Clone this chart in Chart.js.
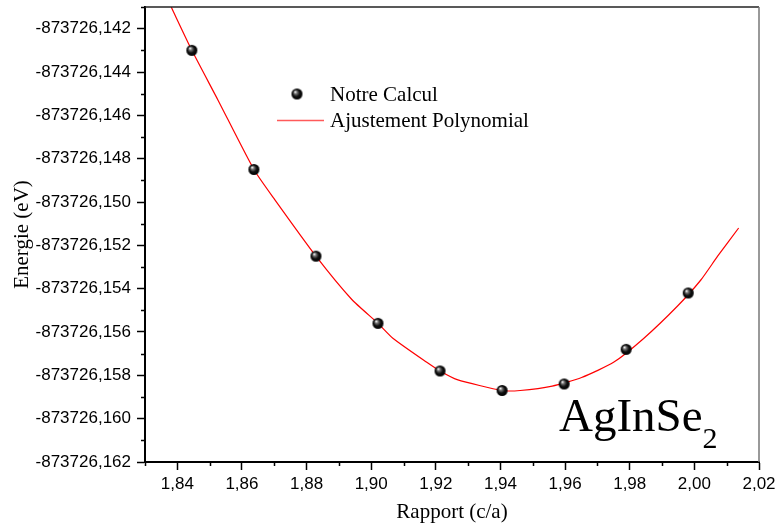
<!DOCTYPE html>
<html lang="fr">
<head>
    <meta charset="UTF-8">
    <title>AgInSe2 - Energie vs c/a</title>
    <script src="https://cdn.jsdelivr.net/npm/chart.js"></script>
    <style>
        html, body { margin: 0; padding: 0; background: #fff; }
        #chart { display: block; }
    </style>
</head>
<body>
    <canvas id="chart" width="778" height="529"></canvas>

    <script>
        // Calculated points (c/a ratio, total energy in eV)
        const ratio = [1.8445, 1.8637, 1.8829, 1.9021, 1.9213, 1.9405, 1.9597, 1.9789, 1.9981];
        const energy = [-873726.1430, -873726.1485, -873726.1525, -873726.1556, -873726.1578,
                        -873726.1587, -873726.1584, -873726.1568, -873726.1542];

        // Polynomial fit curve
        const fitRatio = [1.8381, 1.8445, 1.8526, 1.8637, 1.8702, 1.8829, 1.8940, 1.9021, 1.9068,
                          1.9172, 1.9213, 1.9266, 1.9405, 1.9461, 1.9560, 1.9651, 1.9750, 1.9843,
                          1.9948, 2.0020, 2.0072, 2.0137];
        const fitEnergy = [-873726.1410, -873726.1430, -873726.1453, -873726.1485, -873726.1499,
                           -873726.1525, -873726.1545, -873726.1556, -873726.1563, -873726.1574,
                           -873726.1578, -873726.1582, -873726.1587, -873726.1587, -873726.1585,
                           -873726.1581, -873726.1574, -873726.1563, -873726.1548, -873726.1536,
                           -873726.1525, -873726.1512];

        const xTicks = [1.84, 1.86, 1.88, 1.90, 1.92, 1.94, 1.96, 1.98, 2.00, 2.02];
        const yTicks = [-873726.162, -873726.160, -873726.158, -873726.156, -873726.154,
                        -873726.152, -873726.150, -873726.148, -873726.146, -873726.144, -873726.142];

        const serif = '"Liberation Serif", "Times New Roman", serif';
        const sans = '"Liberation Sans", Arial, sans-serif';

        // shaded black ball marker
        function makeBall(r) {
            const c = document.createElement('canvas');
            c.width = c.height = r * 2 + 2;
            const g = c.getContext('2d');
            const cx = r + 1;
            const grad = g.createRadialGradient(cx - r * 0.35, cx - r * 0.4, 0.3, cx, cx, r);
            grad.addColorStop(0, '#ffffff');
            grad.addColorStop(0.25, '#777');
            grad.addColorStop(0.6, '#111');
            grad.addColorStop(1, '#000');
            g.fillStyle = grad;
            g.beginPath();
            g.arc(cx, cx, r, 0, Math.PI * 2);
            g.fill();
            return c;
        }
        const ball = makeBall(5.5);

        const fmt = (v, d) => v.toFixed(d).replace('.', ',');

        // frame, minor ticks, legend and compound label
        const decorations = {
            id: 'decorations',
            afterDraw(chart) {
                const ctx = chart.ctx;
                const a = chart.chartArea;
                const xs = chart.scales.x, ys = chart.scales.y;
                ctx.save();

                // top and right edges of the box
                ctx.lineWidth = 1.5;
                ctx.strokeStyle = '#222';
                ctx.beginPath();
                ctx.moveTo(a.left, a.top); ctx.lineTo(a.right, a.top);
                ctx.stroke();
                ctx.strokeStyle = '#777';
                ctx.beginPath();
                ctx.moveTo(a.right, a.top); ctx.lineTo(a.right, a.bottom);
                ctx.stroke();

                // minor ticks
                ctx.strokeStyle = '#000';
                ctx.lineWidth = 1.5;
                ctx.beginPath();
                for (let i = 0; i < xTicks.length; i++) {
                    const v = xTicks[i] - 0.01;
                    if (v < xs.min) continue;
                    const px = Math.round(xs.getPixelForValue(v)) + 0.5;
                    ctx.moveTo(px, a.bottom); ctx.lineTo(px, a.bottom + 4);
                }
                for (let i = 0; i < yTicks.length; i++) {
                    const v = yTicks[i] + 0.001;
                    if (v > ys.max) continue;
                    const py = Math.round(ys.getPixelForValue(v)) + 0.5;
                    ctx.moveTo(a.left, py); ctx.lineTo(a.left - 4, py);
                }
                ctx.stroke();

                // legend
                ctx.drawImage(ball, 297 - ball.width / 2, 94 - ball.height / 2);
                ctx.strokeStyle = '#ff5a5a';
                ctx.lineWidth = 1.5;
                ctx.beginPath();
                ctx.moveTo(277, 120.5); ctx.lineTo(324, 120.5);
                ctx.stroke();
                ctx.fillStyle = '#000';
                ctx.font = '21px ' + serif;
                ctx.textBaseline = 'middle';
                ctx.textAlign = 'left';
                ctx.fillText('Notre Calcul', 330, 95);
                ctx.fillText('Ajustement Polynomial', 330, 121);

                // compound name
                ctx.textBaseline = 'alphabetic';
                ctx.font = '47px ' + serif;
                ctx.fillText('AgInSe', 559, 431);
                const w = ctx.measureText('AgInSe').width;
                ctx.font = '30px ' + serif;
                ctx.fillText('2', 559 + w, 448);

                ctx.restore();
            }
        };

        new Chart(document.getElementById('chart'), {
            type: 'scatter',
            data: {
                datasets: [
                    {
                        label: 'Ajustement Polynomial',
                        data: fitRatio.map((x, i) => ({ x, y: fitEnergy[i] })),
                        showLine: true,
                        borderColor: '#ff0000',
                        borderWidth: 1.2,
                        pointRadius: 0,
                        tension: 0.2,
                        order: 2
                    },
                    {
                        label: 'Notre Calcul',
                        data: ratio.map((x, i) => ({ x, y: energy[i] })),
                        showLine: false,
                        pointStyle: ball,
                        pointRadius: 6,
                        order: 1
                    }
                ]
            },
            options: {
                responsive: false,
                devicePixelRatio: 1,
                animation: false,
                layout: { padding: { top: 7, right: 19, left: 0, bottom: 0 } },
                plugins: {
                    legend: { display: false },
                    tooltip: { enabled: false }
                },
                scales: {
                    x: {
                        type: 'linear',
                        min: 1.83,
                        max: 2.02,
                        afterBuildTicks: s => { s.ticks = xTicks.map(v => ({ value: v })); },
                        afterFit: s => { s.height = 67; s.paddingLeft = 0; s.paddingRight = 0; },
                        ticks: {
                            color: '#000',
                            font: { family: sans, size: 17 },
                            padding: 4,
                            maxRotation: 0,
                            callback: v => fmt(v, 2)
                        },
                        grid: { drawOnChartArea: false, drawTicks: true, tickLength: 8, tickWidth: 1.5, tickColor: '#000' },
                        border: { color: '#000', width: 2 },
                        title: {
                            display: true,
                            text: 'Rapport (c/a)',
                            color: '#000',
                            font: { family: serif, size: 21 },
                            padding: { top: 0, bottom: 4 }
                        }
                    },
                    y: {
                        type: 'linear',
                        min: -873726.162,
                        max: -873726.141,
                        afterBuildTicks: s => { s.ticks = yTicks.map(v => ({ value: v })); },
                        afterFit: s => { s.width = 145; s.paddingTop = 0; s.paddingBottom = 0; },
                        ticks: {
                            color: '#000',
                            font: { family: sans, size: 17 },
                            padding: 6,
                            callback: v => fmt(v, 3)
                        },
                        grid: { drawOnChartArea: false, drawTicks: true, tickLength: 8, tickWidth: 1.5, tickColor: '#000' },
                        border: { color: '#000', width: 2 },
                        title: {
                            display: true,
                            text: 'Energie (eV)',
                            color: '#000',
                            font: { family: serif, size: 21 },
                            padding: { top: 10, bottom: 0 }
                        }
                    }
                }
            },
            plugins: [decorations]
        });
    </script>
</body>
</html>
